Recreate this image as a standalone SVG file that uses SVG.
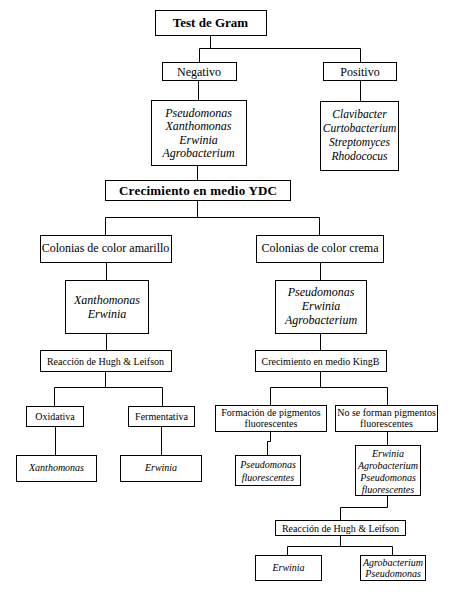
<svg xmlns="http://www.w3.org/2000/svg" width="450" height="600" viewBox="0 0 450 600" font-family="Liberation Serif, DejaVu Serif, serif">
<style>
rect{fill:#fff;stroke:#000;stroke-width:1}
#connectors path{fill:none;stroke:#000;stroke-width:1}
text{font-family:Liberation Serif, DejaVu Serif, serif;fill:#000;text-anchor:middle}
.b{font-weight:bold;font-size:13px}
.m{font-size:12px}
.mi{font-size:12px;font-style:italic}
.s{font-size:10px}
.si{font-size:10px;font-style:italic}
</style>
<rect x="0" y="0" width="450" height="600" style="fill:#fff;stroke:none"/>
<g id="connectors">
<path d="M210.5,35 V48.5 M199.5,48.5 H360.5 M199.5,48.5 V62 M360.5,48.5 V62"/>
<path d="M198.5,80 V100 M360.5,80 V101 M197.5,165 V180"/>
<path d="M197.5,200 V217.5 M105.5,217.5 H319.5 M105.5,217.5 V235 M319.5,217.5 V235"/>
<path d="M106.5,262 V280 M320.5,262 V280 M106.5,333 V350 M320.5,333 V350"/>
<path d="M105.5,371 V387.5 M54.5,387.5 H162.5 M54.5,387.5 V406 M162.5,387.5 V406"/>
<path d="M320.5,371 V387.5 M270.5,387.5 H387.5 M270.5,387.5 V405 M387.5,387.5 V405"/>
<path d="M55.5,426 V455 M161.5,426 V455 M270.5,431 V441.5 H267.5 V455 M387.5,431 V445"/>
<path d="M387.5,495 V507.5 H340.5 V520 M340.5,535 V546.5 M287.5,546.5 H392.5 M287.5,546.5 V555 M392.5,546.5 V555"/>
</g>
<g id="gram"><rect x="155.5" y="10.5" width="111" height="25"/><text class="b" x="210.5" y="27">Test de Gram</text></g>
<g id="negativo"><rect x="162.5" y="62.5" width="74" height="18"/><text class="m" x="199" y="75.5">Negativo</text></g>
<g id="positivo"><rect x="323.5" y="62.5" width="73" height="18"/><text class="m" x="360" y="75.5">Positivo</text></g>
<g id="gramneg"><rect x="151.5" y="100.5" width="95" height="65"/>
<text class="mi" x="198.5" y="116.5">Pseudomonas</text><text class="mi" x="198.5" y="130">Xanthomonas</text><text class="mi" x="198.5" y="143.5">Erwinia</text><text class="mi" x="198.5" y="157">Agrobacterium</text></g>
<g id="grampos"><rect x="320.5" y="101.5" width="78" height="69"/>
<text class="mi" x="359.5" y="118" style="font-size:11.5px">Clavibacter</text><text class="mi" x="359.5" y="132" style="font-size:11.5px">Curtobacterium</text><text class="mi" x="359.5" y="146" style="font-size:11.5px">Streptomyces</text><text class="mi" x="359.5" y="160" style="font-size:11.5px">Rhodococus</text></g>
<g id="ydc"><rect x="105.5" y="180.5" width="185" height="20"/><text class="b" x="198" y="195" textLength="158" lengthAdjust="spacing">Crecimiento en medio YDC</text></g>
<g id="amarillo"><rect x="40.5" y="235.5" width="131" height="27"/><text class="m" x="105.5" y="251.5">Colonias de color amarillo</text></g>
<g id="crema"><rect x="256.5" y="235.5" width="127" height="27"/><text class="m" x="320" y="251.5">Colonias de color crema</text></g>
<g id="xe"><rect x="65.5" y="280.5" width="83" height="53"/><text class="mi" x="107" y="304">Xanthomonas</text><text class="mi" x="107" y="317.5">Erwinia</text></g>
<g id="pea"><rect x="275.5" y="280.5" width="91" height="53"/><text class="mi" x="321" y="296">Pseudomonas</text><text class="mi" x="321" y="310">Erwinia</text><text class="mi" x="321" y="324">Agrobacterium</text></g>
<g id="hugh1"><rect x="40.5" y="350.5" width="131" height="21"/><text class="s" x="105.5" y="364.5">Reacción de Hugh &amp; Leifson</text></g>
<g id="kingb"><rect x="255.5" y="350.5" width="131" height="21"/><text class="s" x="320.5" y="364.5">Crecimiento en medio KingB</text></g>
<g id="oxidativa"><rect x="26.5" y="406.5" width="57" height="20"/><text class="s" x="55" y="419.5">Oxidativa</text></g>
<g id="fermentativa"><rect x="128.5" y="406.5" width="66" height="20"/><text class="s" x="161.5" y="419.5">Fermentativa</text></g>
<g id="formacion"><rect x="215.5" y="405.5" width="111" height="26"/><text class="s" x="271" y="416">Formación de pigmentos</text><text class="s" x="271" y="427">fluorescentes</text></g>
<g id="noforman"><rect x="335.5" y="405.5" width="102" height="26"/><text class="s" x="386.5" y="416">No se forman pigmentos</text><text class="s" x="386.5" y="427">fluorescentes</text></g>
<g id="xanthomonas"><rect x="16.5" y="455.5" width="80" height="26"/><text class="si" x="56.5" y="471">Xanthomonas</text></g>
<g id="erwinia1"><rect x="120.5" y="455.5" width="81" height="26"/><text class="si" x="161" y="471">Erwinia</text></g>
<g id="pfluor"><rect x="235.5" y="455.5" width="65" height="30"/><text class="si" x="268" y="467.5">Pseudomonas</text><text class="si" x="268" y="480.5">fluorescentes</text></g>
<g id="eapf"><rect x="355.5" y="445.5" width="65" height="50"/><text class="si" x="388" y="456.5">Erwinia</text><text class="si" x="388" y="468.5">Agrobacterium</text><text class="si" x="388" y="480.5">Pseudomonas</text><text class="si" x="388" y="492.5">fluorescentes</text></g>
<g id="hugh2"><rect x="275.5" y="520.5" width="130" height="15"/><text class="s" x="340.5" y="531.5">Reacción de Hugh &amp; Leifson</text></g>
<g id="erwinia2"><rect x="255.5" y="555.5" width="66" height="25"/><text class="si" x="288.5" y="571">Erwinia</text></g>
<g id="agropseudo"><rect x="360.5" y="555.5" width="65" height="25"/><text class="si" x="393" y="566">Agrobacterium</text><text class="si" x="393" y="576.5">Pseudomonas</text></g>
</svg>
